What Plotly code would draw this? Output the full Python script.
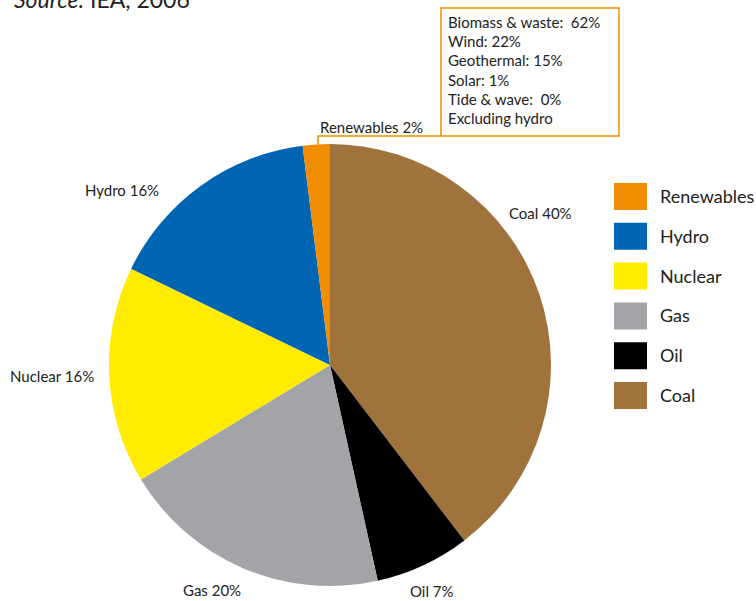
import plotly.graph_objects as go

# ==========================================
# DATA
# ==========================================

sources = ["Coal", "Oil", "Gas", "Nuclear", "Hydro", "Renewables"]

shares = [40, 7, 20, 16, 16, 2]

colors = ["#A0733D", "#000000", "#A3A4A8", "#FFEC00", "#0066B3", "#F18D00"]

legend_order = ["Renewables", "Hydro", "Nuclear", "Gas", "Oil", "Coal"]

renewables_breakdown = [
    "Biomass & waste:  62%",
    "Wind: 22%",
    "Geothermal: 15%",
    "Solar: 1%",
    "Tide & wave:  0%",
    "Excluding hydro",
]

# ==========================================
# LAYOUT HELPERS (pixel -> paper)
# ==========================================

W, H = 756, 601
FONT = "Lato, Noto Sans, sans-serif"


def px_x(x):
    return x / W


def px_y(y):
    return 1 - y / H


# label centres for each slice, in pixels
label_pos = {
    "Coal": (540, 213),
    "Oil": (432, 591),
    "Gas": (212, 590),
    "Nuclear": (52, 376),
    "Hydro": (122, 190),
    "Renewables": (371, 127),
}

fig = go.Figure()

fig.add_trace(
    go.Pie(
        labels=sources,
        values=shares,
        marker=dict(colors=colors, line=dict(width=0)),
        sort=False,
        direction="clockwise",
        rotation=0,
        textinfo="none",
        hoverinfo="label+percent",
        showlegend=False,
        domain=dict(
            x=[px_x(109), px_x(551)],
            y=[px_y(586), px_y(144)],
        ),
    )
)

annotations = []

for name, val in zip(sources, shares):
    lx, ly = label_pos[name]
    annotations.append(
        dict(
            text=f"{name} {val}%",
            x=px_x(lx),
            y=px_y(ly),
            xref="paper",
            yref="paper",
            xanchor="center",
            yanchor="middle",
            showarrow=False,
            font=dict(family=FONT, size=15, color="#222222"),
        )
    )

# source line at the very top (cut off, as in the original)
annotations.append(
    dict(
        text="<i>Source:</i> IEA, 2006",
        x=px_x(12),
        y=px_y(-1),
        xref="paper",
        yref="paper",
        xanchor="left",
        yanchor="middle",
        showarrow=False,
        font=dict(family=FONT, size=23, color="#222222"),
    )
)

# renewables breakdown box text
for i, line in enumerate(renewables_breakdown):
    annotations.append(
        dict(
            text=line,
            x=px_x(446),
            y=px_y(22 + i * 19.2),
            xref="paper",
            yref="paper",
            xanchor="left",
            yanchor="middle",
            showarrow=False,
            font=dict(family=FONT, size=15, color="#222222"),
        )
    )

shapes = [
    dict(
        type="rect",
        xref="paper",
        yref="paper",
        x0=px_x(441),
        x1=px_x(619),
        y0=px_y(136),
        y1=px_y(8),
        line=dict(color="#F18D00", width=1.5),
    ),
    dict(
        type="path",
        xref="paper",
        yref="paper",
        path=(
            f"M {px_x(318)} {px_y(146)} L {px_x(318)} {px_y(136)} "
            f"L {px_x(441)} {px_y(136)}"
        ),
        line=dict(color="#F18D00", width=1.5),
    ),
]

# custom legend with large swatches
color_of = dict(zip(sources, colors))

for i, name in enumerate(legend_order):
    top = 183 + i * 39.8
    shapes.append(
        dict(
            type="rect",
            xref="paper",
            yref="paper",
            x0=px_x(614),
            x1=px_x(647),
            y0=px_y(top + 27),
            y1=px_y(top),
            line=dict(width=0),
            fillcolor=color_of[name],
        )
    )
    annotations.append(
        dict(
            text=name,
            x=px_x(658),
            y=px_y(top + 13),
            xref="paper",
            yref="paper",
            xanchor="left",
            yanchor="middle",
            showarrow=False,
            font=dict(family=FONT, size=18, color="#222222"),
        )
    )

fig.update_layout(
    width=W,
    height=H,
    margin=dict(l=0, r=0, t=0, b=0),
    paper_bgcolor="white",
    plot_bgcolor="white",
    annotations=annotations,
    shapes=shapes,
)

# drop the default body margin so the figure sits at the window corner
fig.write_html(
    "out.html",
    config={"displayModeBar": False},
    post_script="document.body.style.margin = '0';",
)
